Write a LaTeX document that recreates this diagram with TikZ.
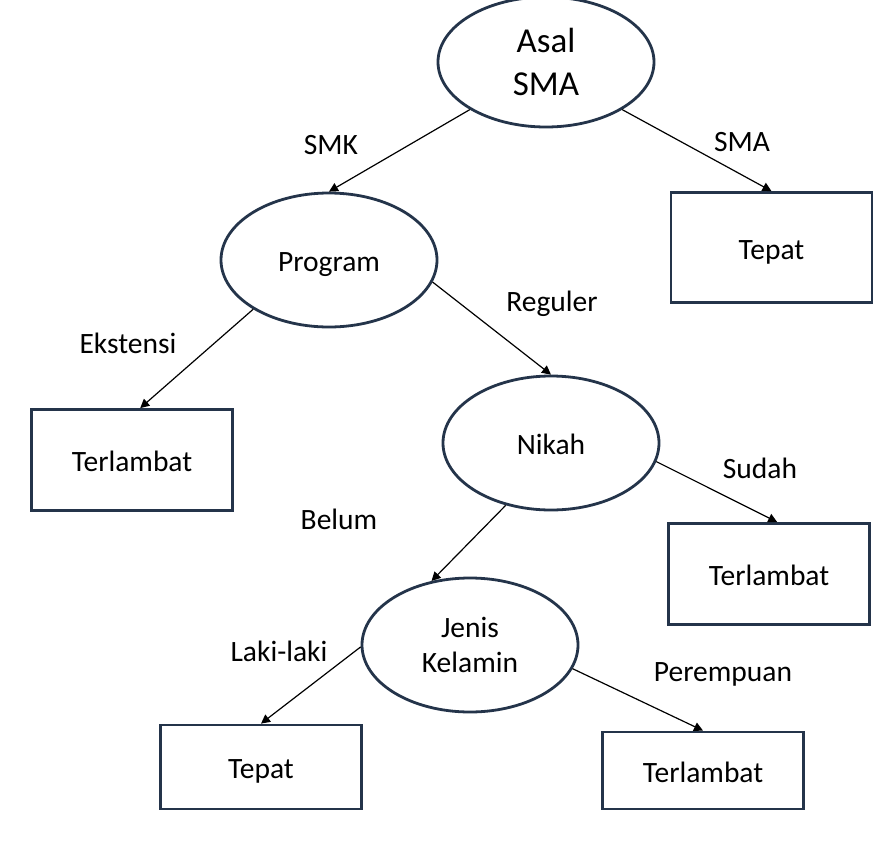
\documentclass[tikz,border=0pt]{standalone}
\usepackage{fontspec}
\setmainfont{Carlito}
\usetikzlibrary{arrows.meta,shapes.geometric}
\definecolor{edge}{RGB}{36,52,74}
\begin{document}
\begin{tikzpicture}[x=1pt,y=-1pt,
  oval/.style={ellipse,draw=edge,line width=2.8pt,fill=white,minimum width=216pt,minimum height=134pt,inner sep=0pt,align=center,font=\fontsize{29.5}{35}\selectfont},
  one/.style={text height=22pt,text depth=0pt},
  leaf/.style={rectangle,draw=edge,line width=2.8pt,fill=white,minimum width=201pt,inner sep=0pt,text height=23pt,text depth=0pt,font=\fontsize{29.5}{35}\selectfont},
  lbl/.style={font=\fontsize{29.5}{35}\selectfont,inner sep=0pt},
  conn/.style={line width=1.2pt,-{Triangle[length=9pt,width=9pt]}}]
\useasboundingbox[fill=white] (0,0) rectangle (887,844);
\node[oval,minimum height=130pt,font=\fontsize{35}{43}\selectfont] (asal) at (546,62) {Asal\\SMA};
\node[oval,one] (prog) at (329,260) {Program};
\node[oval,one] (nikah) at (551,443) {Nikah};
\node[oval] (jk) at (470,645) {Jenis\\Kelamin};
\node[leaf,minimum height=110pt] (tepat1) at (771.5,247.5) {Tepat};
\node[leaf,minimum height=101pt] (terl1) at (132,460) {Terlambat};
\node[leaf,minimum height=101pt] (terl2) at (769,574) {Terlambat};
\node[leaf,minimum height=84pt] (tepat2) at (261,767) {Tepat};
\node[leaf,minimum height=77pt] (terl3) at (703,770.5) {Terlambat};
\draw[conn] (asal.212) -- (prog.north);
\draw[conn] (asal.328) -- (tepat1.north);
\draw[conn] (prog.213) -- (terl1.81);
\draw[conn] (prog.-12) -- (nikah.north);
\draw[conn] (nikah.-10) -- (terl2.81);
\draw[conn] (nikah.234) -- (jk.121);
\draw[conn] (jk.181) -- (tepat2.north);
\draw[conn] (jk.-13) -- (terl3.north);
\node[lbl] (l1) at (331,145) {SMK};
\node[lbl] (l2) at (742,142) {SMA};
\node[lbl] (l3) at (552,304) {Reguler};
\node[lbl] (l4) at (128,343) {Ekstensi};
\node[lbl] (l5) at (760,468) {Sudah};
\node[lbl] (l6) at (339,519) {Belum};
\node[lbl] (l7) at (279,651) {Laki-laki};
\node[lbl] (l8) at (723,674) {Perempuan};
\end{tikzpicture}
\end{document}
